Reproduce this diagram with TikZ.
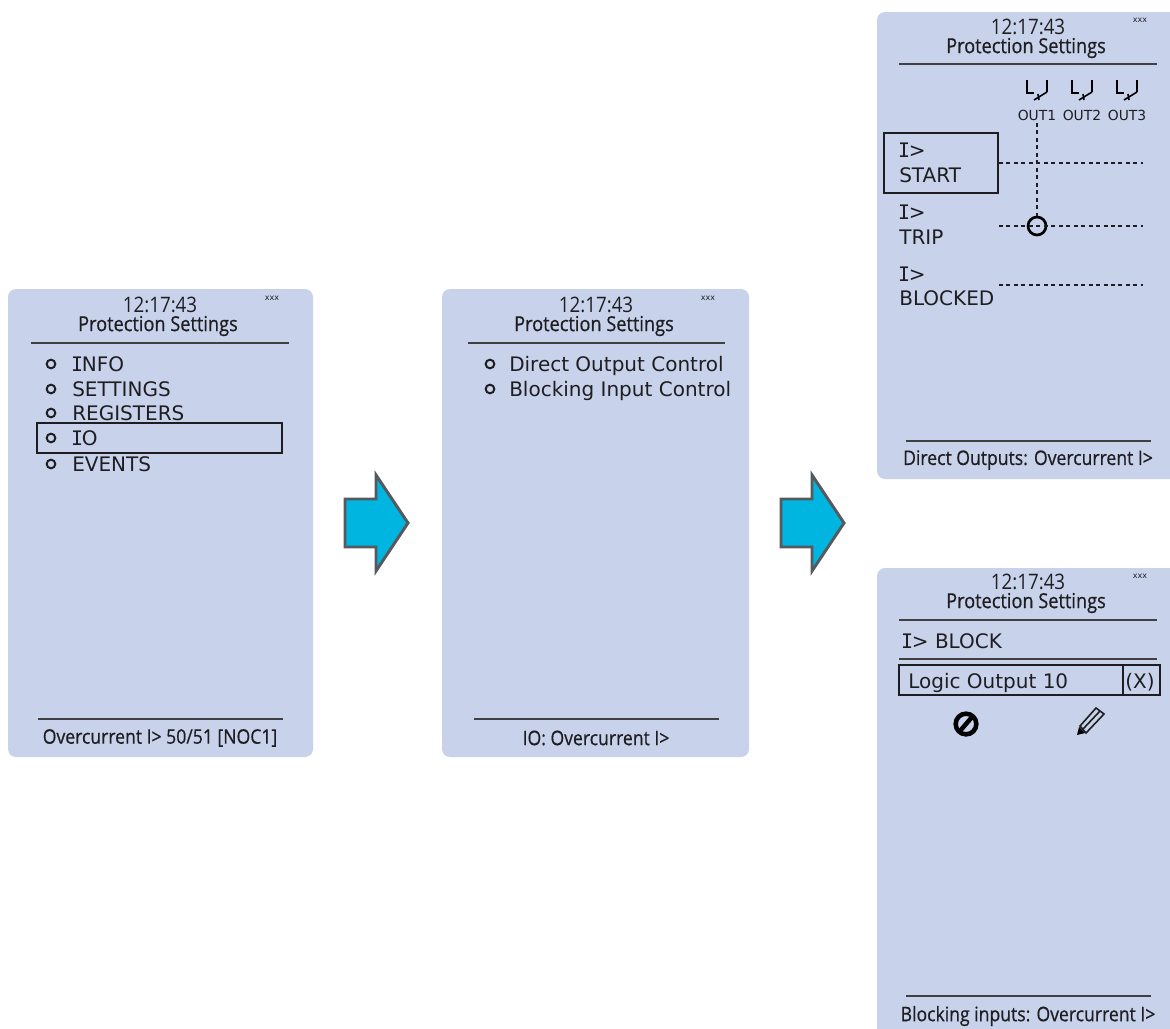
\documentclass[tikz,border=0pt]{standalone}
\usepackage{fontspec}
\setmainfont{DejaVu Sans}
\newfontfamily\ttl[FakeStretch=0.88]{Open Sans}
\newfontfamily\lst[FakeStretch=1.0]{DejaVu Sans}
\newfontfamily\smono{DejaVu Sans Mono}
\newcommand{\sI}{{\smono\kern-.06em I\kern-.06em}}
\definecolor{panelblue}{HTML}{C8D3EB}
\definecolor{arrowblue}{HTML}{00B5E0}
\definecolor{arrowline}{HTML}{555A5E}
\definecolor{ink}{HTML}{1E1E22}
\tikzset{
  panel/.style={fill=panelblue,draw=none,rounded corners=6pt},
  rulerline/.style={draw=ink!85,line width=1.3pt},
  timetext/.style={font=\ttl\fontsize{16}{18}\selectfont,text=ink,inner sep=0pt,anchor=center},
  titletext/.style={font=\ttl\fontsize{15.5}{18}\selectfont\addfontfeature{FakeBold=0.6},text=ink,inner sep=0pt,anchor=center},
  capttext/.style={font=\ttl\fontsize{15}{18}\selectfont\addfontfeature{FakeBold=0.6},text=ink,inner sep=0pt,anchor=center},
  tinytext/.style={font=\fontsize{6}{6.5}\selectfont,text=ink,inner sep=0pt,anchor=center},
  itemtext/.style={font=\lst\fontsize{15}{17}\selectfont,text=ink,inner sep=0pt,anchor=base west},
  outtext/.style={font=\fontsize{10.4}{12}\selectfont,text=ink,inner sep=0pt,anchor=center},
  bulletmark/.style={circle,draw=ink,line width=1.5pt,minimum size=6.5pt,inner sep=0pt},
  selbox/.style={draw=ink,line width=1.5pt,inner sep=0pt,fill=none},
  dashline/.style={draw=ink,line width=.9pt,dash pattern=on 3pt off 2.6pt},
  bigarrow/.style={fill=arrowblue,draw=arrowline,line width=2.2pt,miter limit=10},
  relay/.style={draw=black,line width=2pt},
  relaythin/.style={draw=black,line width=1.2pt},
}
\newcommand{\relaysym}[2]{%
  \begin{scope}[shift={(#1,#2)}]
    \draw[relay] (-10,-10) -- (-10,3) -- (-3,3);
    \draw[relay] (10,-10) -- (10,2);
    \draw[relaythin] (-3,10) -- (10,2);
    \draw[relaythin] (1,4) -- (2,10);
  \end{scope}}
\begin{document}
\begin{tikzpicture}[x=.75pt,y=-.75pt]
\useasboundingbox (0,0) rectangle (1170,1028);
\clip (0,0) rectangle (1170,1028);
% panels
\path[panel] (8,289) rectangle (313,757);
\path[panel] (442,289) rectangle (749,757);
\path[panel] (877,12) rectangle (1190,479);
\path[panel] (877,568) rectangle (1190,1060);
% arrows
\path[bigarrow] (345,499) -- (376,499) -- (376,475) -- (408,523) -- (376,571) -- (376,547) -- (345,547) -- cycle;
\path[bigarrow] (781,499) -- (812,499) -- (812,475) -- (844,523) -- (812,571) -- (812,547) -- (781,547) -- cycle;
% panel 1
\node[timetext] (t1) at (160,304.5) {12:17:43};
\node[titletext] (h1) at (158,326) {Protection Settings};
\node[tinytext] (x1) at (272,298) {xxx};
\draw[rulerline] (31,343) -- (289,343);
\foreach \n/\y/\t in {a/364/\sI NFO,b/389/SETTINGS,c/413/REGISTERS,d/438/\sI O,e/464/EVENTS}{
  \node[bulletmark] (bl\n) at (51,\y) {};
  \node[itemtext] (it\n) at (72,\y+7) {\t};
}
\node[selbox,minimum width=183.5pt,minimum height=22.5pt] (selio) at (159.5,438) {};
\draw[rulerline] (38,719) -- (283,719);
\node[capttext] (c1) at (160,738) {Overcurrent I> 50/51 [NOC1]};
% panel 2
\node[timetext] (t2) at (596,304.5) {12:17:43};
\node[titletext] (h2) at (594,326) {Protection Settings};
\node[tinytext] (x2) at (708,298) {xxx};
\draw[rulerline] (468,343) -- (725,343);
\node[bulletmark] (bl2a) at (490,364) {};
\node[itemtext] (it2a) at (509,371) {Direct Output Control};
\node[bulletmark] (bl2b) at (490,389) {};
\node[itemtext] (it2b) at (509,396) {Blocking Input Control};
\draw[rulerline] (474,719) -- (719,719);
\node[capttext] (c2) at (596,738) {IO: Overcurrent I>};
% panel 3
\node[timetext] (t3) at (1028,26.5) {12:17:43};
\node[titletext] (h3) at (1026,48) {Protection Settings};
\node[tinytext] (x3) at (1140,20) {xxx};
\draw[rulerline] (899,64) -- (1157,64);
\relaysym{1037}{90}\relaysym{1082}{90}\relaysym{1127}{90}
\node[outtext] (o1) at (1037,115) {OUT1};
\node[outtext] (o2) at (1082,115) {OUT2};
\node[outtext] (o3) at (1127,115) {OUT3};
\node[selbox,minimum width=85.5pt,minimum height=45pt] (startbox) at (941,163) {};
\node[itemtext] at (899,157) {\sI>};
\node[itemtext] at (899,182.5) {START};
\node[itemtext] at (899,219) {\sI>};
\node[itemtext] at (899,244.5) {TRIP};
\node[itemtext] at (899,281) {\sI>};
\node[itemtext] at (899,305.5) {BLOCKED};
\node[circle,draw=black,line width=2pt,minimum size=13.5pt,inner sep=0pt] (tripnode) at (1037,226) {};
\coordinate (outtop) at (1037,123);
\coordinate (startend) at (1143,163);
\coordinate (tripstart) at (999,226);
\coordinate (tripend) at (1143,226);
\coordinate (blockstart) at (999,285);
\coordinate (blockend) at (1143,285);
\draw[dashline] (startbox.east) -- (startend);
\draw[dashline] (outtop) -- (tripnode.north);
\draw[dashline] (tripstart) -- (tripend);
\draw[dashline] (blockstart) -- (blockend);
\draw[rulerline] (906,441) -- (1151,441);
\node[capttext] (c3) at (1028,460) {Direct Outputs: Overcurrent I>};
% panel 4
\node[timetext] (t4) at (1028,581.5) {12:17:43};
\node[titletext] (h4) at (1026,603) {Protection Settings};
\node[tinytext] (x4) at (1140,576) {xxx};
\draw[rulerline] (899,620) -- (1157,620);
\node[itemtext] (blk) at (902,648) {\sI> BLOCK};
\draw[rulerline] (899,659) -- (1157,659);
\node[selbox,minimum width=196pt,minimum height=22.5pt] (logicbox) at (1029.5,680) {};
\draw[selbox] (1123,665) -- (1123,695);
\node[itemtext] (lo) at (908,688) {Logic Output 10};
\node[itemtext] (xx) at (1125,688) {(X)};
% icons
\node[circle,draw=black,line width=3.4pt,minimum size=15.5pt,inner sep=0pt] (noicon) at (966,724) {};
\draw[black,line width=3.4pt] (960,731) -- (972,717);
\fill[black] (1077,735) -- (1079,727) -- (1085,733) -- cycle;
\draw[ink,line width=1.2pt] (1080,726) -- (1096,708) -- (1104,714) -- (1086,733) -- cycle;
\draw[ink,line width=1.2pt] (1083,729) -- (1100,711);
\draw[rulerline] (906,996) -- (1151,996);
\node[capttext] (c4) at (1028,1016) {Blocking inputs: Overcurrent I>};
\end{tikzpicture}
\end{document}
